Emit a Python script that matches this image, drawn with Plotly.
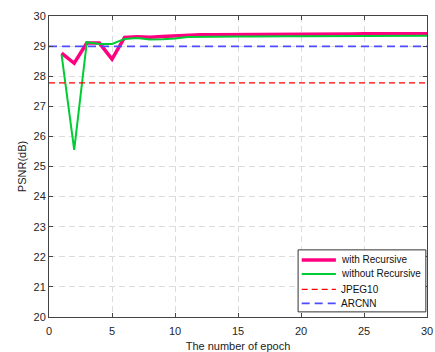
import plotly.graph_objects as go

epochs = list(range(1, 31))
with_recursive = [28.77, 28.43, 29.10, 29.10, 28.57, 29.29, 29.31, 29.29, 29.32, 29.34,
                  29.37, 29.38, 29.38, 29.38, 29.39, 29.39, 29.39, 29.40, 29.40, 29.40,
                  29.40, 29.40, 29.40, 29.40, 29.41, 29.41, 29.41, 29.41, 29.41, 29.41]
without_recursive = [28.71, 25.55, 29.13, 29.07, 29.07, 29.24, 29.27, 29.22, 29.23, 29.25,
                     29.30, 29.31, 29.31, 29.32, 29.32, 29.32, 29.33, 29.33, 29.33, 29.33,
                     29.33, 29.33, 29.33, 29.34, 29.34, 29.34, 29.34, 29.34, 29.34, 29.34]
jpeg10 = 27.78
arcnn = 28.99
x_ticks = [0, 5, 10, 15, 20, 25, 30]
y_ticks = list(range(20, 31))

series_names = ["with Recursive", "without Recursive", "JPEG10", "ARCNN"]
series_styles = [
    dict(color="#FF0080", width=3.5),
    dict(color="#00CC33", width=2),
    dict(color="#FF0000", width=1.2, dash="6px,4px"),
    dict(color="#4D4DFF", width=1.8, dash="8px,5px"),
]

fig = go.Figure()
fig.add_trace(go.Scatter(x=epochs, y=with_recursive, mode="lines", name=series_names[0],
                         line=series_styles[0]))
fig.add_trace(go.Scatter(x=epochs, y=without_recursive, mode="lines", name=series_names[1],
                         line=series_styles[1]))
fig.add_trace(go.Scatter(x=[0, 30], y=[jpeg10, jpeg10], mode="lines", name=series_names[2],
                         line=series_styles[2]))
fig.add_trace(go.Scatter(x=[0, 30], y=[arcnn, arcnn], mode="lines", name=series_names[3],
                         line=series_styles[3]))

axis_common = dict(showline=True, linecolor="#444444", linewidth=1, mirror="ticks",
                   ticks="inside", ticklen=4, tickcolor="#444444",
                   showgrid=True, gridcolor="#DCDCDC", griddash="6px,4px", gridwidth=1,
                   zeroline=False, tickfont=dict(size=11, color="#262626"))

fig.update_layout(
    width=435, height=352,
    margin=dict(l=49, r=8, t=16, b=35, autoexpand=False),
    paper_bgcolor="white", plot_bgcolor="white",
    font=dict(family="Liberation Sans, Arial, sans-serif", size=11, color="#222222"),
    xaxis=dict(range=[0, 30.0001], tickvals=x_ticks, ticklabelstandoff=4,
               title=dict(text="The number of epoch", font=dict(size=11), standoff=6),
               **axis_common),
    yaxis=dict(range=[20, 30], tickvals=y_ticks,
               title=dict(text="PSNR(dB)", font=dict(size=11), standoff=4),
               **axis_common),
    showlegend=False,
)

# compact legend box (MATLAB-style), drawn in plot-area (paper) coordinates
box = dict(x0=0.659, x1=0.997, y0=0.017, y1=0.223)
fig.add_shape(type="rect", xref="paper", yref="paper", **box,
              line=dict(color="#333333", width=1), fillcolor="white", layer="above")
row_y = [0.1894, 0.1429, 0.092, 0.0455]
for name, style, yy in zip(series_names, series_styles, row_y):
    fig.add_shape(type="line", xref="paper", yref="paper", x0=0.6685, x1=0.759,
                  y0=yy, y1=yy, line=style, layer="above")
    fig.add_annotation(xref="paper", yref="paper", x=0.766, y=yy, text=name,
                       showarrow=False, xanchor="left", yanchor="middle",
                       font=dict(size=10, color="#111111"))

fig.write_html("out.html", config={"displayModeBar": False},
               post_script="document.body.style.margin='0';document.body.style.overflow='hidden';")
